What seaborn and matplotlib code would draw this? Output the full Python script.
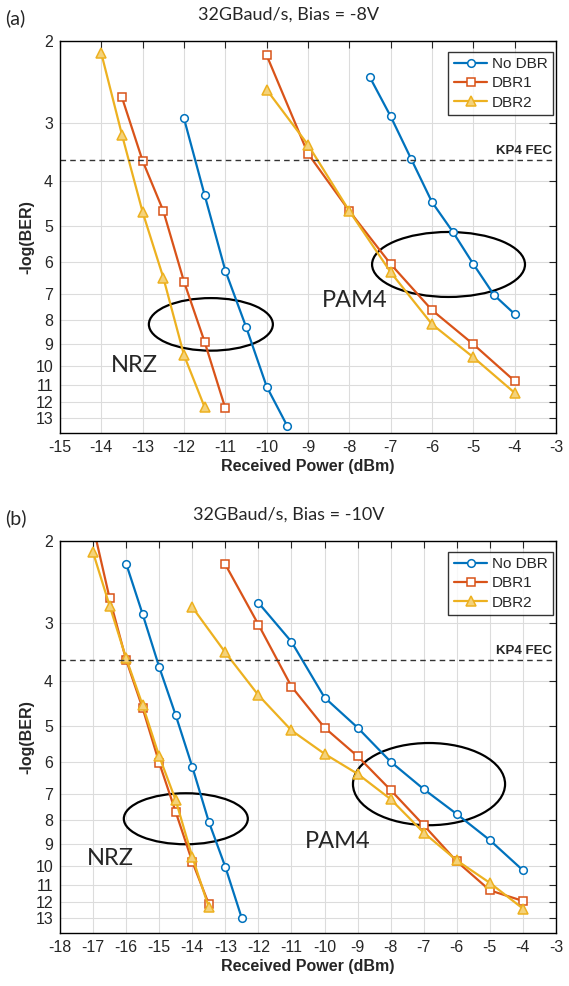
import numpy as np
import pandas as pd
import matplotlib
matplotlib.use("Agg")
import matplotlib.pyplot as plt
import matplotlib.transforms as mtransforms
from matplotlib.patches import Ellipse
from matplotlib.ticker import NullLocator
import seaborn as sns

# ---------------- data ----------------
# panel (a): 32GBaud/s, Bias = -8V
a_nrz_nodbr_x = [-12, -11.5, -11, -10.5, -10, -9.5]
a_nrz_nodbr_y = [2.94, 4.3, 6.25, 8.25, 11.1, 13.5]
a_nrz_dbr1_x = [-13.5, -13, -12.5, -12, -11.5, -11]
a_nrz_dbr1_y = [2.65, 3.63, 4.65, 6.6, 8.9, 12.36]
a_nrz_dbr2_x = [-14, -13.5, -13, -12.5, -12, -11.5]
a_nrz_dbr2_y = [2.13, 3.19, 4.68, 6.47, 9.5, 12.3]

a_pam_nodbr_x = [-7.5, -7, -6.5, -6, -5.5, -5, -4.5, -4]
a_pam_nodbr_y = [2.4, 2.91, 3.6, 4.45, 5.15, 6.05, 7.05, 7.75]
a_pam_dbr1_x = [-10, -9, -8, -7, -6, -5, -4]
a_pam_dbr1_y = [2.15, 3.5, 4.65, 6.05, 7.6, 9.0, 10.8]
a_pam_dbr2_x = [-10, -9, -8, -7, -6, -5, -4]
a_pam_dbr2_y = [2.55, 3.35, 4.65, 6.3, 8.15, 9.6, 11.45]

# panel (b): 32GBaud/s, Bias = -10V
b_nrz_nodbr_x = [-16, -15.5, -15, -14.5, -14, -13.5, -13, -12.5]
b_nrz_nodbr_y = [2.24, 2.88, 3.74, 4.75, 6.13, 8.05, 10.07, 13.0]
b_nrz_dbr1_x = [-17, -16.5, -16, -15.5, -15, -14.5, -14, -13.5]
b_nrz_dbr1_y = [1.86, 2.66, 3.61, 4.59, 6.01, 7.67, 9.81, 12.1]
b_nrz_dbr2_x = [-17, -16.5, -16, -15.5, -15, -14.5, -14, -13.5]
b_nrz_dbr2_y = [2.12, 2.76, 3.58, 4.52, 5.82, 7.24, 9.58, 12.3]

b_pam_nodbr_x = [-12, -11, -10, -9, -8, -7, -6, -5, -4]
b_pam_nodbr_y = [2.72, 3.3, 4.35, 5.05, 5.98, 6.85, 7.75, 8.82, 10.24]
b_pam_dbr1_x = [-13, -12, -11, -10, -9, -8, -7, -6, -5, -4]
b_pam_dbr1_y = [2.25, 3.03, 4.12, 5.05, 5.82, 6.88, 8.19, 9.8, 11.31, 11.92]
b_pam_dbr2_x = [-14, -13, -12, -11, -10, -9, -8, -7, -6, -5, -4]
b_pam_dbr2_y = [2.78, 3.48, 4.3, 5.12, 5.75, 6.35, 7.2, 8.5, 9.75, 10.9, 12.38]

series_names = ["No DBR", "DBR1", "DBR2"]
titles = ["32GBaud/s, Bias = -8V", "32GBaud/s, Bias = -10V"]
panel_tags = ["(a)", "(b)"]
y_ticks = list(range(2, 14))
x_ticks_a = list(range(-15, -2))
x_ticks_b = list(range(-18, -2))
kp4_fec = 3.62


def make_frame(groups):
    rows = []
    for fmt, name, xs, ys in groups:
        for x, y in zip(xs, ys):
            rows.append({"fmt": fmt, "series": name, "power": x, "nlogber": y})
    return pd.DataFrame(rows)


df_a = make_frame([
    ("NRZ", "No DBR", a_nrz_nodbr_x, a_nrz_nodbr_y),
    ("NRZ", "DBR1", a_nrz_dbr1_x, a_nrz_dbr1_y),
    ("NRZ", "DBR2", a_nrz_dbr2_x, a_nrz_dbr2_y),
    ("PAM4", "No DBR", a_pam_nodbr_x, a_pam_nodbr_y),
    ("PAM4", "DBR1", a_pam_dbr1_x, a_pam_dbr1_y),
    ("PAM4", "DBR2", a_pam_dbr2_x, a_pam_dbr2_y),
])
df_b = make_frame([
    ("NRZ", "No DBR", b_nrz_nodbr_x, b_nrz_nodbr_y),
    ("NRZ", "DBR1", b_nrz_dbr1_x, b_nrz_dbr1_y),
    ("NRZ", "DBR2", b_nrz_dbr2_x, b_nrz_dbr2_y),
    ("PAM4", "No DBR", b_pam_nodbr_x, b_pam_nodbr_y),
    ("PAM4", "DBR1", b_pam_dbr1_x, b_pam_dbr1_y),
    ("PAM4", "DBR2", b_pam_dbr2_x, b_pam_dbr2_y),
])

# ellipses: (x min, x max, y min, y max) in data units
ellipses_a = [(-12.85, -9.85, 7.16, 9.29), (-7.45, -3.75, 5.16, 7.12)]
ellipses_b = [(-16.07, -12.32, 6.99, 9.0), (-9.14, -4.54, 5.45, 8.19)]
# format labels: (text, x, y)
labels_a = [("NRZ", -13.19, 9.98), ("PAM4", -7.86, 7.23)]
labels_b = [("NRZ", -16.49, 9.64), ("PAM4", -9.59, 8.86)]

# ---------------- style ----------------
sns.set_style("white")
plt.rcParams["font.family"] = ["Liberation Sans", "DejaVu Sans"]

colors = {"No DBR": "#0072BD", "DBR1": "#D95319", "DBR2": "#EDB120"}
faces = {"No DBR": "white", "DBR1": "white", "DBR2": "#F4D27A"}
markers = {"No DBR": "o", "DBR1": "s", "DBR2": "^"}
msizes = {"No DBR": 5.5, "DBR1": 5.5, "DBR2": 6.5}

fig = plt.figure(figsize=(5.69, 9.86), dpi=100)
W, H = 569, 986


def panel(rect_px, df, xticks, xlim, ells, labels, title, tag, title_y):
    l, t, r, b = rect_px
    ax = fig.add_axes([l / W, 1 - b / H, (r - l) / W, (b - t) / H])
    handles = {}
    for (fmt, name), g in df.groupby(["fmt", "series"], sort=False):
        sns.lineplot(data=g, x="power", y="nlogber", ax=ax, sort=False,
                     estimator=None, color=colors[name], marker=markers[name],
                     markersize=msizes[name], markerfacecolor=faces[name],
                     markeredgecolor=colors[name], markeredgewidth=1.1,
                     linewidth=1.6, legend=False)
        handles[name] = ax.lines[-1]

    ax.set_yscale("log")
    ax.set_ylim(13.95, 2)
    ax.set_yticks(y_ticks)
    ax.set_yticklabels([str(v) for v in y_ticks])
    ax.yaxis.set_minor_locator(NullLocator())
    ax.set_xlim(*xlim)
    ax.set_xticks(xticks)
    ax.set_xticklabels([str(v) for v in xticks])

    ax.grid(True, color="#dcdcdc", linewidth=0.8)
    ax.set_axisbelow(True)
    for s in ax.spines.values():
        s.set_color("black")
        s.set_linewidth(1.0)
    ax.tick_params(direction="in", top=True, right=True, length=5,
                   width=0.8, labelsize=11.5, pad=5)

    ax.set_xlabel("Received Power (dBm)", fontsize=11.5, fontweight="bold",
                  labelpad=3)
    ax.set_ylabel("-log(BER)", fontsize=11.5, fontweight="bold", labelpad=1)

    ax.axhline(kp4_fec, color="#333333", linestyle=(0, (4, 3)), linewidth=1.0)
    trans = mtransforms.blended_transform_factory(ax.transAxes, ax.transData)
    ax.text(0.992, kp4_fec * 0.985, "KP4 FEC", transform=trans, ha="right",
            va="bottom", fontsize=9.5, fontweight="bold")

    # ellipses drawn in axes coords so they stay round on the log axis
    to_axes = ax.transData + ax.transAxes.inverted()
    for x0, x1, y0, y1 in ells:
        (ax0, ay0), (ax1, ay1) = to_axes.transform([(x0, y0), (x1, y1)])
        ax.add_patch(Ellipse(((ax0 + ax1) / 2, (ay0 + ay1) / 2),
                             abs(ax1 - ax0), abs(ay1 - ay0),
                             transform=ax.transAxes, fill=False,
                             edgecolor="black", linewidth=1.6))
    for txt, x, y in labels:
        ax.text(x, y, txt, ha="center", va="center", fontsize=17,
                family=["Lato", "DejaVu Sans"])

    leg = ax.legend([handles[n] for n in series_names], series_names,
                    loc="upper right", bbox_to_anchor=(0.994, 0.972),
                    borderaxespad=0, fontsize=11, frameon=True,
                    fancybox=False, handlelength=2.2, handletextpad=0.3,
                    labelspacing=0.35, borderpad=0.35)
    leg.get_frame().set_edgecolor("black")
    leg.get_frame().set_linewidth(1.0)

    fig.text(289 / W, 1 - title_y / H, title, ha="center", va="center",
             fontsize=13, family=["Lato", "DejaVu Sans"])
    fig.text(5 / W, 1 - (title_y + 3) / H, tag, ha="left", va="center",
             fontsize=14, family=["Lato", "DejaVu Sans"])
    return ax


panel((60, 40.7, 556, 432.7), df_a, x_ticks_a, (-15, -3), ellipses_a,
      labels_a, titles[0], panel_tags[0], 15)
panel((60, 540.7, 556, 932.7), df_b, x_ticks_b, (-18, -3), ellipses_b,
      labels_b, titles[1], panel_tags[1], 515)

fig.savefig("out.png", dpi=100)
